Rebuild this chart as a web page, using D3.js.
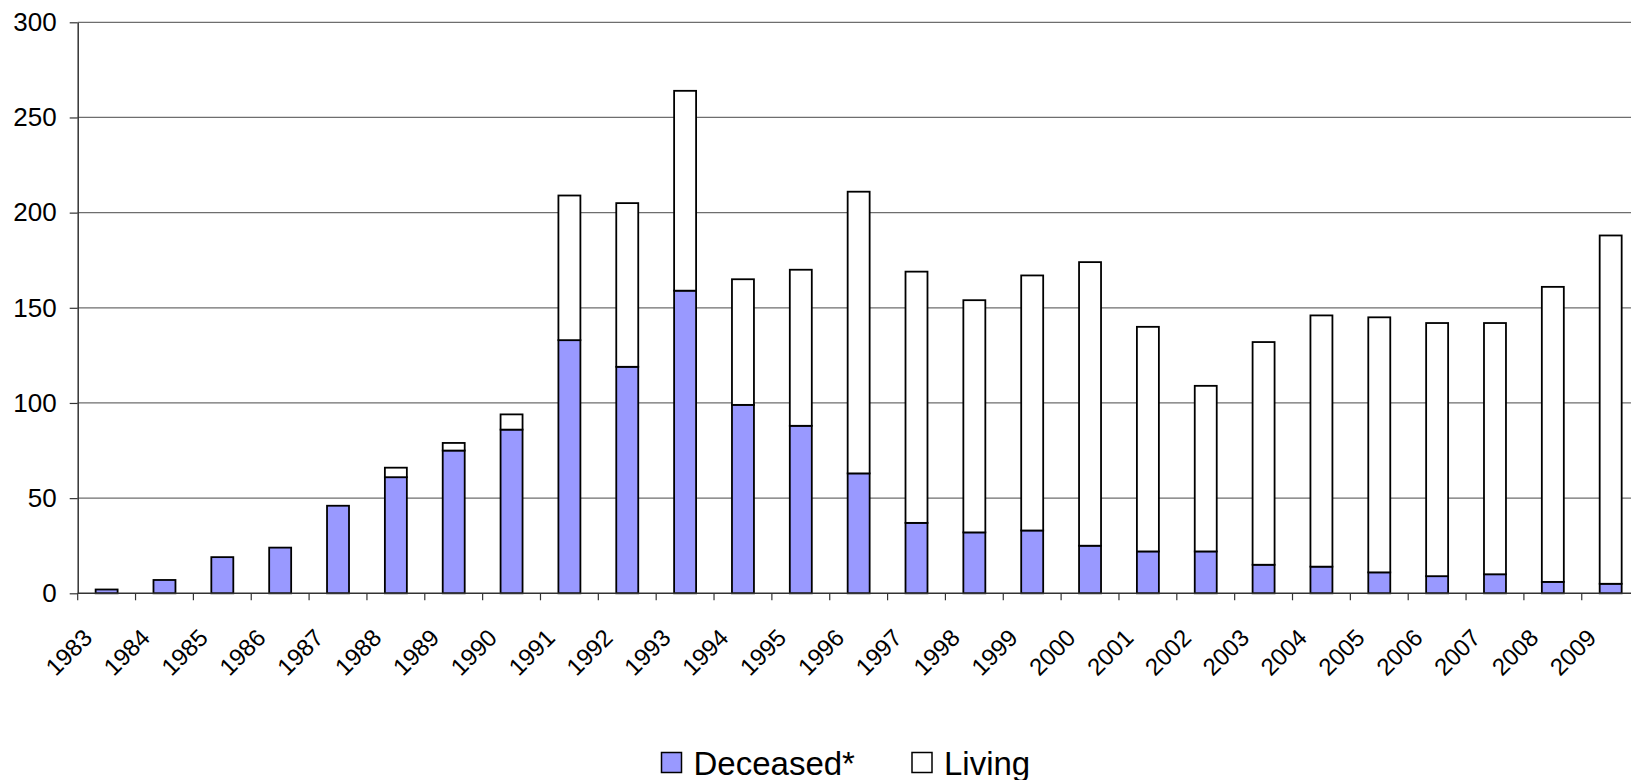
<!DOCTYPE html>
<html>
<head>
<meta charset="utf-8">
<script src="https://cdn.jsdelivr.net/npm/d3@7"></script>
<style>
  body { margin: 0; background: #fff; overflow: hidden; }
  text { font-family: Arial, "Liberation Sans", sans-serif; fill: #000; }
</style>
</head>
<body>
<svg></svg>
<script>
// chart values
const years = ['1983','1984','1985','1986','1987','1988','1989','1990','1991','1992','1993','1994','1995','1996','1997','1998','1999','2000','2001','2002','2003','2004','2005','2006','2007','2008','2009'];
const deceased = [2, 7, 19, 24, 46, 61, 75, 86, 133, 119, 159, 99, 88, 63, 37, 32, 33, 25, 22, 22, 15, 14, 11, 9, 10, 6, 5];
const living = [0, 0, 0, 0, 0, 5, 4, 8, 76, 86, 105, 66, 82, 148, 132, 122, 134, 149, 118, 87, 117, 132, 134, 133, 132, 155, 183];
const yTicks = [0, 50, 100, 150, 200, 250, 300];
const seriesNames = ['Deceased*', 'Living'];
const seriesColors = ['#9999ff', '#ffffff'];

const width = 1631, height = 780;
const margin = { top: 22.3, left: 77.7 };
const plotRight = 1639.6;   // plot area runs a bit past the window edge
const plotBottom = 593.3;

var svg = d3.select('svg')
  .attr('width', width)
  .attr('height', height);

var rows = years.map((y, i) => ({ year: y, deceased: deceased[i], living: living[i] }));
var stacked = d3.stack().keys(['deceased', 'living'])(rows);

var x = d3.scaleBand()
  .domain(years)
  .range([margin.left, plotRight])
  .paddingInner(0.62)
  .paddingOuter(0.31);

var y = d3.scaleLinear()
  .domain([0, 300])
  .range([plotBottom, margin.top]);

// gridlines
svg.append('g')
  .selectAll('line')
  .data(yTicks.filter(d => d > 0))
  .enter().append('line')
  .attr('x1', margin.left).attr('x2', plotRight)
  .attr('y1', d => y(d)).attr('y2', d => y(d))
  .attr('stroke', '#6e6e6e')
  .attr('stroke-width', 1.3);

// y axis
var yAxis = svg.append('g')
  .attr('transform', `translate(${margin.left},0)`)
  .call(d3.axisLeft(y).tickValues(yTicks).tickSize(8).tickPadding(13).tickSizeOuter(0));
yAxis.select('.domain').attr('stroke', '#333').attr('stroke-width', 1.5);
yAxis.selectAll('.tick line').attr('stroke', '#333').attr('stroke-width', 1.2);
yAxis.selectAll('text').style('font-size', '26px');

// bars
svg.append('g')
  .selectAll('g')
  .data(stacked)
  .enter().append('g')
  .attr('fill', (d, i) => seriesColors[i])
  .selectAll('rect')
  .data(d => d.filter(p => p[1] - p[0] > 0))
  .enter().append('rect')
  .attr('x', d => x(d.data.year))
  .attr('width', x.bandwidth())
  .attr('y', d => y(d[1]))
  .attr('height', d => y(d[0]) - y(d[1]))
  .attr('stroke', '#000')
  .attr('stroke-width', 1.8);

// x axis: ticks sit between categories
var xAxisG = svg.append('g');
xAxisG.append('line')
  .attr('x1', margin.left).attr('x2', plotRight)
  .attr('y1', plotBottom).attr('y2', plotBottom)
  .attr('stroke', '#333').attr('stroke-width', 1.5);
xAxisG.selectAll('line.tick')
  .data(years)
  .enter().append('line')
  .attr('class', 'tick')
  .attr('x1', d => x(d) - x.step() * x.paddingOuter())
  .attr('x2', d => x(d) - x.step() * x.paddingOuter())
  .attr('y1', plotBottom).attr('y2', plotBottom + 7)
  .attr('stroke', '#333').attr('stroke-width', 1.2);
xAxisG.selectAll('text')
  .data(years)
  .enter().append('text')
  .attr('transform', d => `translate(${x(d) + x.bandwidth() / 2 - 13},${plotBottom + 46}) rotate(-45)`)
  .attr('text-anchor', 'end')
  .style('font-size', '24px')
  .text(d => d);

// legend
var legend = svg.append('g');
var legendX = [661.5, 912];
seriesNames.forEach((name, i) => {
  legend.append('rect')
    .attr('x', legendX[i]).attr('y', 752.5)
    .attr('width', 20).attr('height', 20)
    .attr('fill', seriesColors[i])
    .attr('stroke', '#000').attr('stroke-width', 1.5);
  legend.append('text')
    .attr('x', legendX[i] + 32).attr('y', 775)
    .style('font-size', '33px')
    .text(name);
});
</script>
</body>
</html>
